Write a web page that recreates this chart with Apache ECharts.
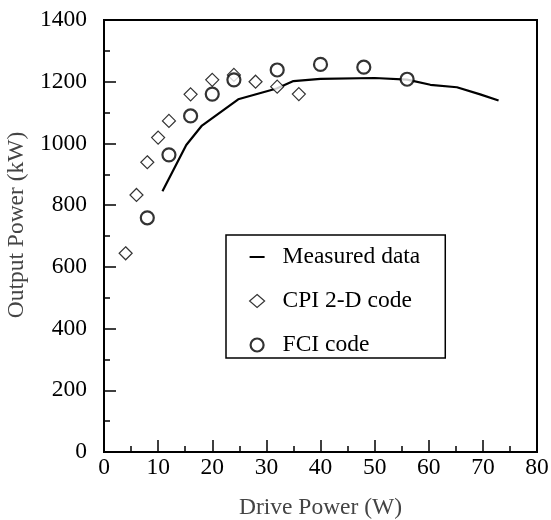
<!DOCTYPE html>
<html>
<head>
<meta charset="utf-8">
<script src="https://cdn.jsdelivr.net/npm/echarts@6/dist/echarts.min.js"></script>
<style>html,body{margin:0;padding:0;background:#fff}#c{width:551px;height:520px}</style>
</head>
<body>
<div id="c"></div>
<script>
var measuredData = [[10.8,845],[15.2,995],[18.1,1058],[24.8,1143],[31.9,1178],[35,1202],[40,1209],[50,1212],[56,1207],[60.3,1190],[65.2,1182],[69.5,1159],[72.9,1139]];
var cpiData = [[4,644],[6,833],[8,939],[10,1019],[12,1073],[16,1159],[20,1206],[24,1222],[28,1200],[32,1184],[36,1160]];
var fciData = [[8,759],[12,963],[16,1089],[20,1160],[24,1206],[32,1238],[40,1256],[48,1247],[56,1208]];
var seriesNames = ['Measured data','CPI 2-D code','FCI code'];
var xAxisName = 'Drive Power (W)';
var yAxisName = 'Output Power (kW)';

var FONT = 'Liberation Serif';
var FS = 23.5;
var chart = echarts.init(document.getElementById('c'), null, {renderer:'canvas'});
chart.setOption({
  animation:false,
  backgroundColor:'#fff',
  grid:{left:104,right:14,top:20,bottom:68,containLabel:false,outerBoundsMode:'none',
        show:true,borderColor:'#000',borderWidth:2,backgroundColor:'transparent'},
  xAxis:{
    type:'value',min:0,max:80,interval:10,
    name:xAxisName,nameLocation:'middle',nameGap:44,
    nameTextStyle:{fontFamily:FONT,fontSize:FS,color:'#444'},
    axisLine:{show:true,lineStyle:{color:'#000',width:2}},
    axisTick:{show:true,inside:true,length:12,lineStyle:{color:'#000',width:1.5}},
    minorTick:{show:true,splitNumber:2,length:6,lineStyle:{color:'#000',width:1.5}},
    axisLabel:{fontFamily:FONT,fontSize:FS,color:'#000',margin:4,formatter:function(v){return String(v);}},
    splitLine:{show:false}
  },
  yAxis:{
    type:'value',min:0,max:1400,interval:200,
    name:yAxisName,nameLocation:'middle',nameGap:62,
    nameTextStyle:{fontFamily:FONT,fontSize:FS,color:'#444',padding:[0,0,0,22]},
    axisLine:{show:true,lineStyle:{color:'#000',width:2}},
    axisTick:{show:true,inside:true,length:12,lineStyle:{color:'#000',width:1.5}},
    minorTick:{show:true,splitNumber:2,length:6,lineStyle:{color:'#000',width:1.5}},
    axisLabel:{fontFamily:FONT,fontSize:FS,color:'#000',margin:17,formatter:function(v){return String(v);}},
    splitLine:{show:false}
  },
  legend:{
    orient:'vertical',left:226,top:235,
    padding:[9,25,0,23],itemGap:18,
    itemWidth:15,itemHeight:13,
    backgroundColor:'#fff',borderColor:'#000',borderWidth:1.5,
    textStyle:{fontFamily:FONT,fontSize:FS,color:'#000',lineHeight:26,padding:[0,0,0,13]},
    data:[
      {name:seriesNames[0],icon:'path://M0,0 M15,13 M0,5.5 L15,5.5 L15,7.5 L0,7.5 Z',itemStyle:{color:'#000',borderWidth:0}},
      {name:seriesNames[1],icon:'diamond',itemStyle:{color:'#fff',borderColor:'#000',borderWidth:1.2}},
      {name:seriesNames[2],icon:'circle',itemStyle:{color:'#fff',borderColor:'#000',borderWidth:2.2}}
    ]
  },
  series:[
    {name:seriesNames[0],type:'line',data:measuredData,symbol:'none',
     lineStyle:{color:'#000',width:2.2},itemStyle:{color:'#000'},z:2},
    {name:seriesNames[1],type:'scatter',data:cpiData,symbol:'diamond',symbolSize:13,
     itemStyle:{color:'#fff',borderColor:'#000',borderWidth:1.2},z:3},
    {name:seriesNames[2],type:'scatter',data:fciData,symbol:'circle',symbolSize:13,
     itemStyle:{color:'#fff',borderColor:'#000',borderWidth:2.2},z:4}
  ]
});
</script>
</body>
</html>
